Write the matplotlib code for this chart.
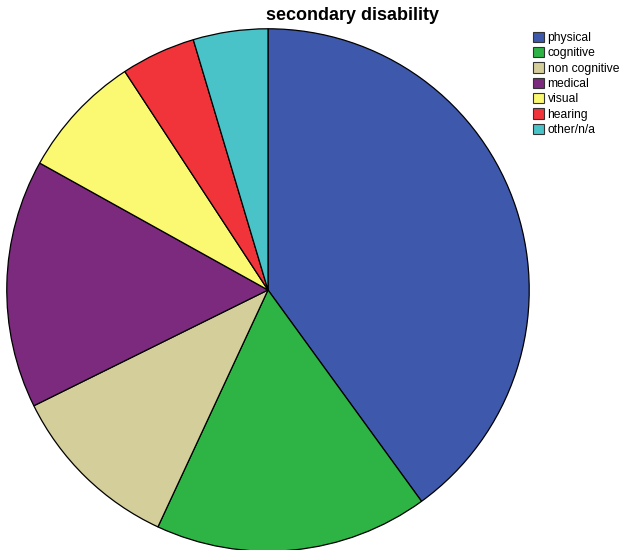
import matplotlib
matplotlib.use("Agg")
import matplotlib.pyplot as plt
import matplotlib.patches as mpatches

plt.rcParams["font.family"] = ["Liberation Sans", "DejaVu Sans"]

# Counts per secondary disability category
categories = ["physical", "cognitive", "non cognitive", "medical",
              "visual", "hearing", "other/n/a"]
counts = [26, 11, 7, 10, 5, 3, 3]
colors = ["#3E58AC", "#2DB445", "#D4CE9A", "#7B2A7D",
          "#FBF972", "#F0343A", "#49C2C8"]

W, H = 621, 550
fig = plt.figure(figsize=(W / 100, H / 100), dpi=100)
fig.patch.set_facecolor("white")

# pie occupies a square axes: centre (268, 290) px, radius 262 px
r = 262
cx, cy = 268, H - 290
ax = fig.add_axes([(cx - r) / W, (cy - r) / H, 2 * r / W, 2 * r / H])
ax.pie(counts, colors=colors, startangle=90, counterclock=False, radius=1,
       wedgeprops=dict(edgecolor="black", linewidth=0.9))
ax.set_xlim(-1.003, 1.003)
ax.set_ylim(-1.003, 1.003)
ax.set_aspect("auto")
ax.axis("off")

fig.text(352 / W, 1 - 15 / H, "secondary disability", ha="center", va="center",
         fontsize=13, fontweight="bold")

handles = [mpatches.Patch(facecolor=c, edgecolor="#333333", linewidth=0.8, label=l)
           for c, l in zip(colors, categories)]
fig.legend(handles=handles, loc="upper left", bbox_to_anchor=(533 / W, 1 - 31.5 / H),
           frameon=False, fontsize=8.7, handlelength=0.95, handleheight=0.95,
           handletextpad=0.25, labelspacing=0.25, borderpad=0, borderaxespad=0)

fig.savefig("out.png", dpi=100)
